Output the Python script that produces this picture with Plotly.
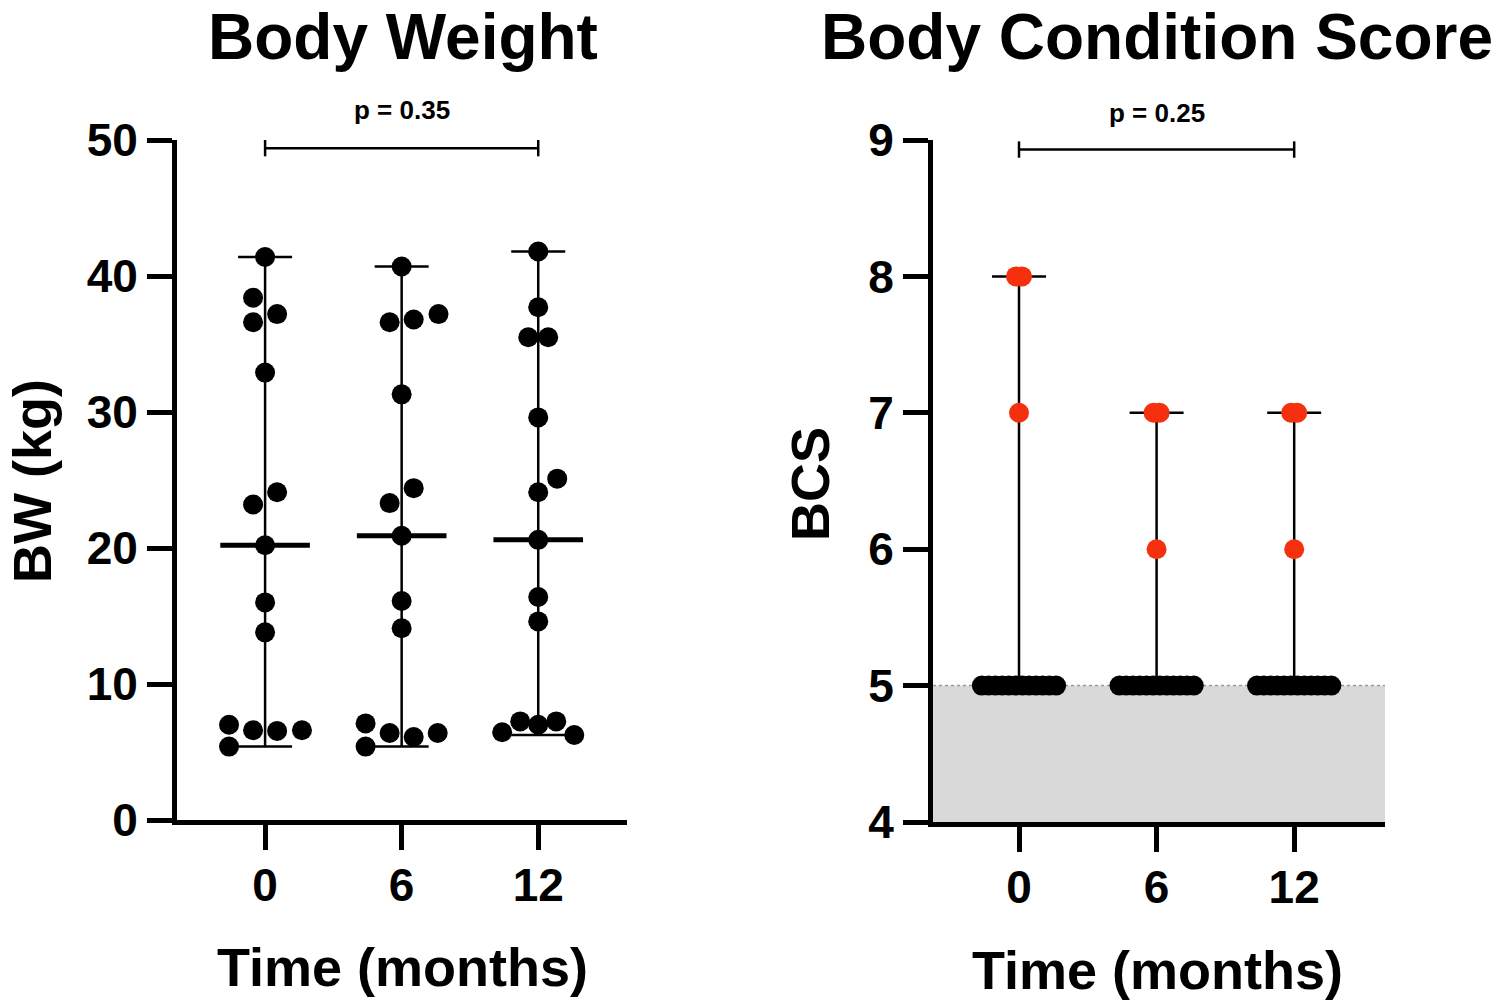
import numpy as np
import plotly.graph_objects as go

# ---------------- data ----------------
time_labels = ["0", "6", "12"]

bw_m0 = [41.4, 38.4, 37.2, 36.6, 32.9, 24.1, 23.2, 20.2, 16.0, 13.8, 7.0, 6.6, 6.55, 6.6, 5.4]
bw_m6 = [40.7, 36.6, 36.8, 37.2, 31.3, 24.4, 23.3, 20.9, 16.1, 14.1, 7.1, 6.4, 6.1, 6.4, 5.4]
bw_m12 = [41.8, 37.7, 35.5, 35.5, 29.6, 25.1, 24.1, 20.6, 16.4, 14.6, 7.25, 7.0, 7.25, 6.45, 6.25]

bcs_m0 = [8, 8, 7] + [5] * 12
bcs_m6 = [7, 7, 6] + [5] * 12
bcs_m12 = [7, 7, 6] + [5] * 12

p_bw = "p = 0.35"
p_bcs = "p = 0.25"

# horizontal scatter offsets (category units), layout only
bw_jit0 = [0, -0.088, 0.088, -0.088, 0, 0.088, -0.088, 0, 0, 0, -0.264, -0.088, 0.088, 0.27, -0.264]
bw_jit6 = [0, -0.088, 0.088, 0.27, 0, 0.088, -0.088, 0, 0, 0, -0.264, -0.088, 0.088, 0.264, -0.264]
bw_jit12 = [0, 0, -0.073, 0.073, 0, 0.139, 0, 0, 0, 0, -0.132, 0, 0.132, -0.264, 0.264]
five_row = list(np.linspace(-0.27, 0.27, 12))
bcs_jit0 = [-0.022, 0.022, 0] + five_row
bcs_jit6 = [-0.022, 0.022, 0] + five_row
bcs_jit12 = [-0.022, 0.022, 0] + five_row

# ---------------- style ----------------
FONT = "Liberation Sans, Arial, Helvetica, sans-serif"
RED = "#F5300F"
BLACK = "#000000"
W, H = 1500, 1008

fig = go.Figure()


def add_group(groups, jitters, xa, ya, color_fn, cap_w, med_size):
    for i, (vals, jit) in enumerate(zip(groups, jitters)):
        v = np.array(vals, dtype=float)
        med = float(np.median(v))
        vmin, vmax = float(v.min()), float(v.max())
        # range whiskers with caps, median line
        fig.add_trace(go.Scatter(
            x=[i], y=[med], mode="markers", xaxis=xa, yaxis=ya,
            marker=dict(symbol="line-ew", size=med_size, color=BLACK,
                        line=dict(width=5, color=BLACK)),
            error_y=dict(type="data", symmetric=False,
                         array=[vmax - med], arrayminus=[med - vmin],
                         color=BLACK, thickness=2.5, width=cap_w),
            hoverinfo="skip", showlegend=False))
        # individual points
        xs = [i + j for j in jit]
        cols = [color_fn(val) for val in vals]
        fig.add_trace(go.Scatter(
            x=xs, y=vals, mode="markers", xaxis=xa, yaxis=ya,
            marker=dict(size=20, color=cols, line=dict(width=0)),
            showlegend=False))


add_group([bw_m0, bw_m6, bw_m12], [bw_jit0, bw_jit6, bw_jit12], "x", "y",
          lambda v: BLACK, 27, 64)
add_group([bcs_m0, bcs_m6, bcs_m12], [bcs_jit0, bcs_jit6, bcs_jit12], "x2", "y2",
          lambda v: RED if v > 5 else BLACK, 27, 60)

axis_common = dict(showline=True, linecolor=BLACK, linewidth=5, ticks="outside",
                   ticklen=25, tickwidth=5, tickcolor=BLACK, showgrid=False,
                   zeroline=False, automargin=False,
                   tickfont=dict(family=FONT, size=46, color=BLACK, weight="bold"))

fig.update_layout(
    width=W, height=H, margin=dict(l=0, r=0, t=0, b=0, autoexpand=False),
    paper_bgcolor="white", plot_bgcolor="white", showlegend=False,
    xaxis=dict(domain=[177 / W, 627 / W], range=[-0.645, 2.65], tickvals=[0, 1, 2],
               ticktext=time_labels, anchor="y", ticklabelstandoff=-4, **axis_common),
    yaxis=dict(domain=[1 - 820 / H, 1 - 140 / H], range=[0, 50],
               tickvals=[0, 10, 20, 30, 40, 50], anchor="x", **axis_common),
    xaxis2=dict(domain=[933 / W, 1385 / W], range=[-0.625, 2.66], tickvals=[0, 1, 2],
                ticktext=time_labels, anchor="y2", ticklabelstandoff=-4, **axis_common),
    yaxis2=dict(domain=[1 - 822 / H, 1 - 140 / H], range=[4, 9],
                tickvals=[4, 5, 6, 7, 8, 9], anchor="x2", **axis_common),
)

# normal BCS band and its dotted limit
fig.add_shape(type="rect", xref="x2 domain", yref="y2", x0=0, x1=1, y0=4, y1=5,
              fillcolor="#D9D9D9", line=dict(width=0), layer="below")
fig.add_shape(type="line", xref="x2 domain", yref="y2", x0=0, x1=1, y0=5, y1=5,
              line=dict(color="#9A9A9A", width=1.5, dash="dot"), layer="below")

# significance brackets
for xr, yr, yb, tick in [("x", "y", 49.4, 0.6), ("x2", "y2", 8.93, 0.06)]:
    fig.add_shape(type="line", xref=xr, yref=yr, x0=0, x1=2, y0=yb, y1=yb,
                  line=dict(color=BLACK, width=2.5))
    for xe in (0, 2):
        fig.add_shape(type="line", xref=xr, yref=yr, x0=xe, x1=xe, y0=yb - tick, y1=yb + tick,
                      line=dict(color=BLACK, width=2.5))

ann = []
def txt(text, x, y, size, angle=0, yanchor="middle"):
    ann.append(dict(text=text, x=x / W, y=1 - y / H, xref="paper", yref="paper",
                    showarrow=False, xanchor="center", yanchor=yanchor, textangle=angle,
                    borderpad=0,
                    font=dict(family=FONT, size=size, color=BLACK, weight="bold")))

txt("Body Weight", 403, 0, 64, yanchor="top")
txt("Body Condition Score", 1157, 0, 64, yanchor="top")
txt(p_bw, 402, 110, 26)
txt(p_bcs, 1157, 113, 26)
txt("Time (months)", 402, 967, 54)
txt("Time (months)", 1157, 970, 54)
txt("BW (kg)", 32, 481, 54, -90)
txt("BCS", 810, 484, 54, -90)
fig.update_layout(annotations=ann)

fig.write_html("out.html", config={"displayModeBar": False},
               post_script="document.body.style.margin='0';")
